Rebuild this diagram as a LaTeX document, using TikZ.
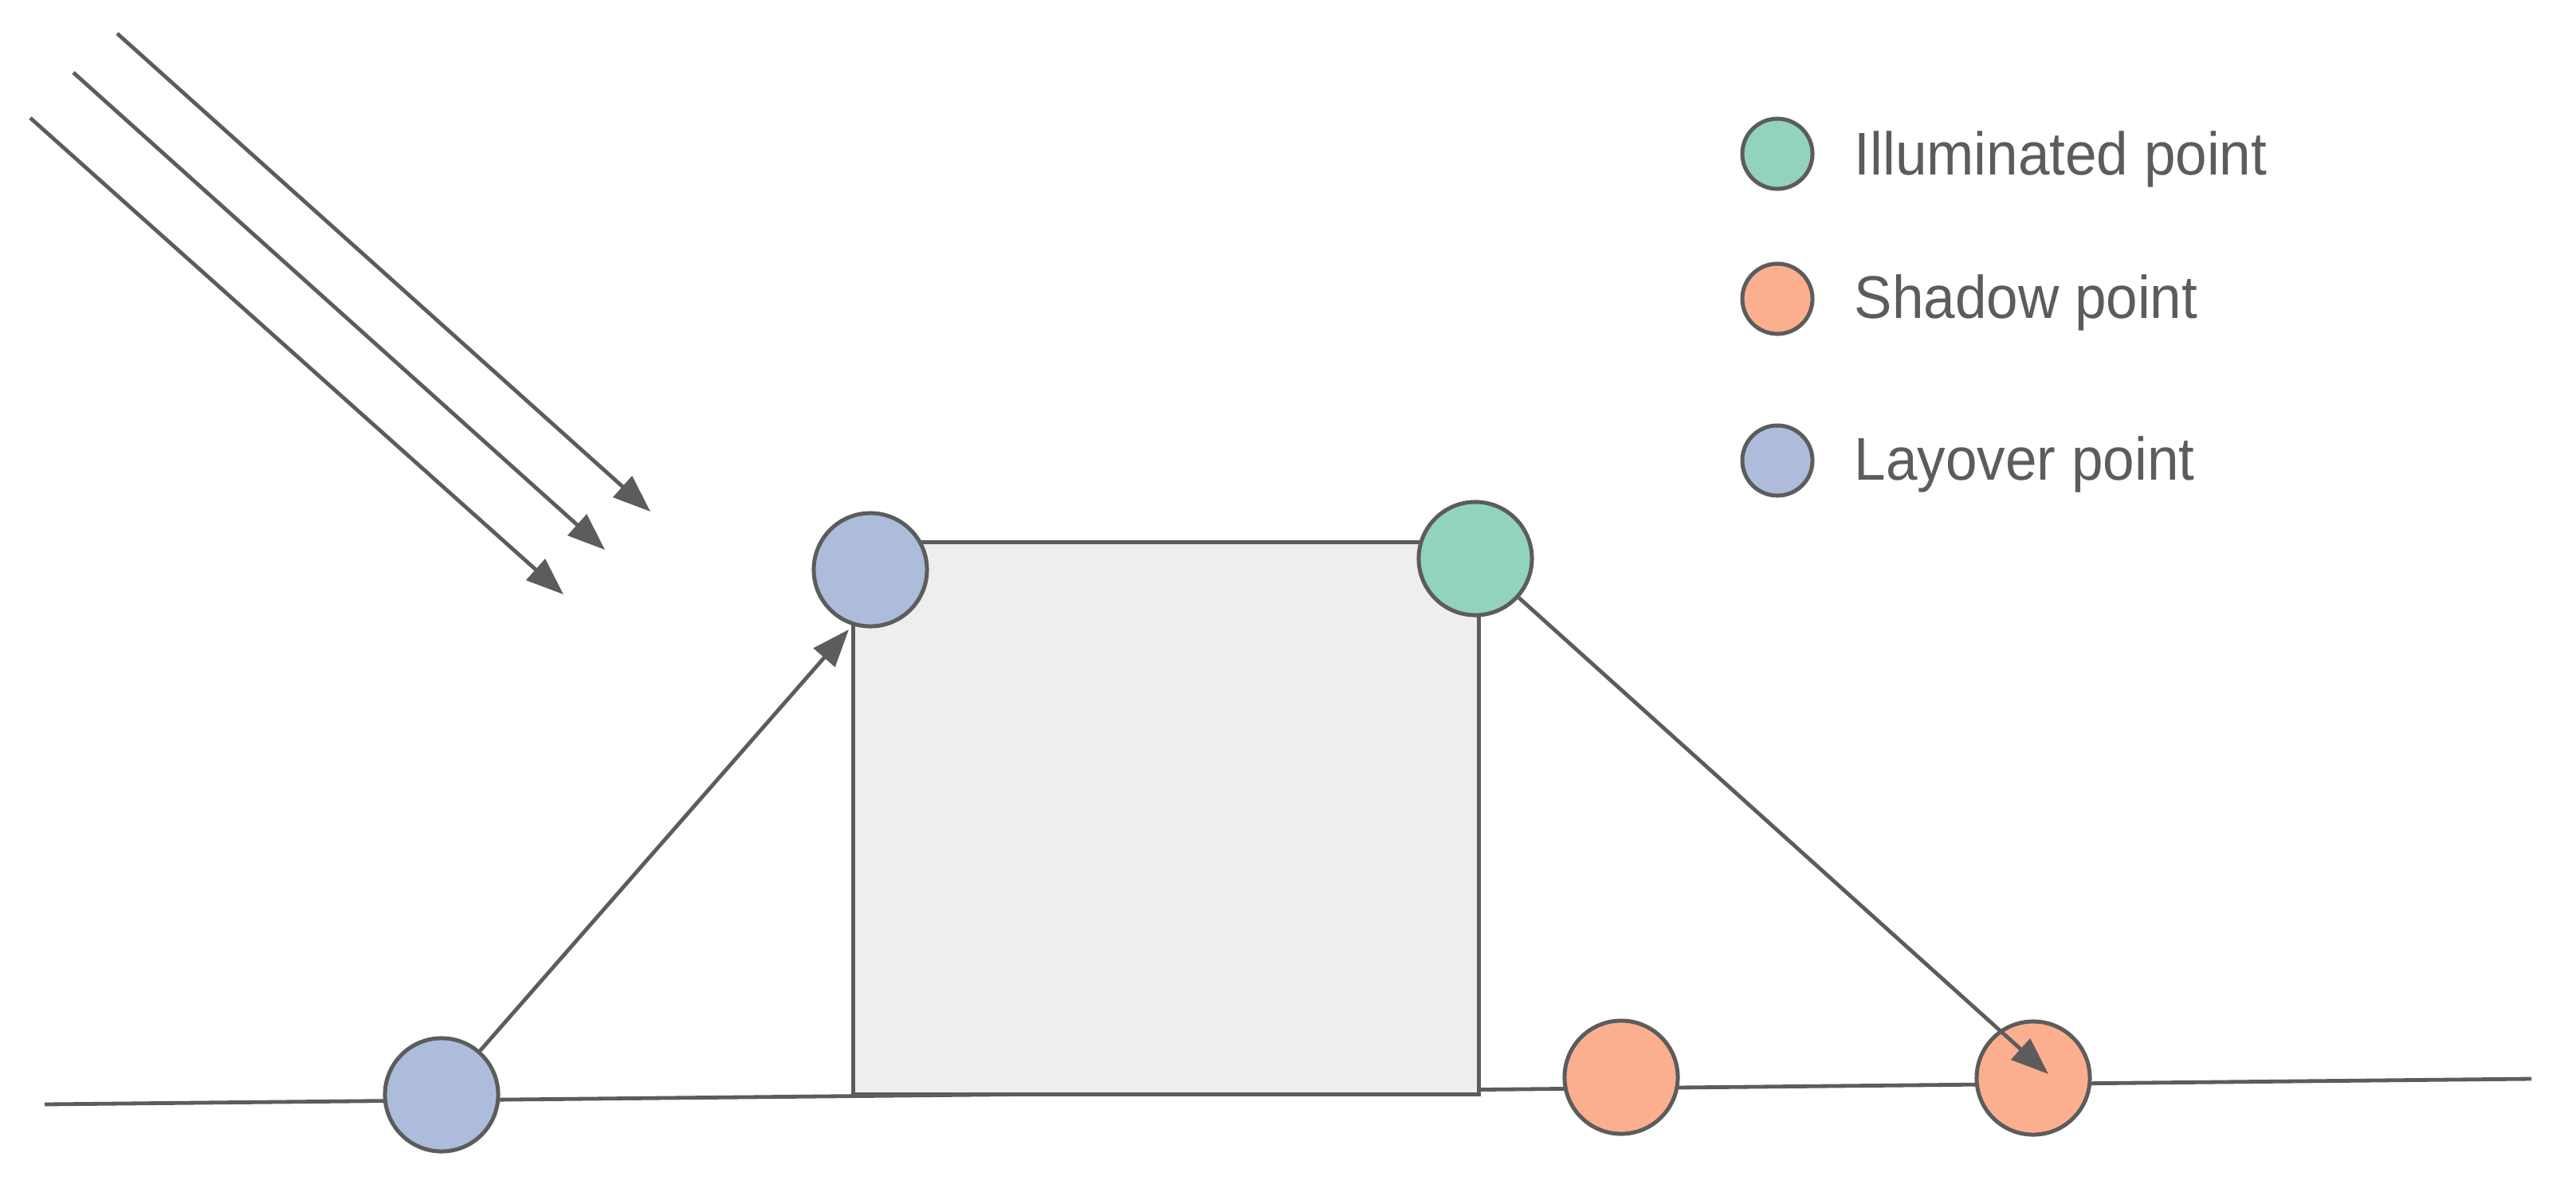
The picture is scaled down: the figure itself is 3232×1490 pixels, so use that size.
\documentclass[tikz,border=0pt]{standalone}
\usepackage{fontspec}
\setmainfont{Liberation Sans}
\usetikzlibrary{arrows.meta}
\definecolor{lc}{HTML}{5C5C5C}
\definecolor{txt}{HTML}{5C5C5C}
\definecolor{grn}{RGB}{145,211,189}
\definecolor{org}{RGB}{252,175,143}
\definecolor{blu}{RGB}{174,188,219}
\definecolor{bld}{HTML}{EEEEEE}
\newcommand{\lgtext}[1]{\scalebox{0.94}[1]{#1}}
\begin{document}
\begin{tikzpicture}[x=0.01cm,y=-0.01cm,
  ln/.style={draw=lc,line width=0.048cm},
  arr/.style={ln,-{Triangle[length=0.47cm,width=0.35cm]}},
  pt/.style={circle,draw=lc,line width=0.05cm,inner sep=0pt,minimum size=1.42cm},
  lg/.style={circle,draw=lc,line width=0.05cm,inner sep=0pt,minimum size=0.88cm},
  lbl/.style={anchor=base west,text=txt,font=\fontsize{21.5}{25}\selectfont,inner sep=0pt}]
\useasboundingbox[fill=white] (0,0) rectangle (3232,1490);
% incoming rays
\coordinate (r1s) at (147,42);  \coordinate (r1e) at (816,642);
\coordinate (r2s) at (92,91);   \coordinate (r2e) at (759,690);
\coordinate (r3s) at (38,148);  \coordinate (r3e) at (707,746);
\draw[arr] (r1s) -- (r1e);
\draw[arr] (r2s) -- (r2e);
\draw[arr] (r3s) -- (r3e);
% ground
\coordinate (g1) at (56,1386);
\coordinate (g2) at (3176,1354);
\draw[ln] (g1) -- (g2);
% building
\node[draw=lc,fill=bld,line width=0.048cm,inner sep=0pt,anchor=north west,
      minimum width=7.85cm,minimum height=6.93cm] (bldg) at (1068,678) {};
% points
\node[pt,fill=blu] (lb) at (554,1374) {};
\coordinate (t1) at (1065,790);
\draw[arr] (lb) -- (t1);
\node[pt,fill=blu] (lt) at (1092,715) {};
\node[pt,fill=grn] (il) at (1851,701) {};
\node[pt,fill=org] (s1) at (2034,1352) {};
\node[pt,fill=org] (s2) at (2551,1353) {};
\coordinate (t2) at (2570,1348);
\draw[arr] (il) -- (t2);
% legend
\node[lg,fill=grn] (lgI) at (2230,193) {};
\node[lg,fill=org] (lgS) at (2230,375) {};
\node[lg,fill=blu] (lgL) at (2230,578) {};
\node[lbl] (tI) at (2326,219) {\lgtext{Illuminated point}};
\node[lbl] (tS) at (2326,399) {\lgtext{Shadow point}};
\node[lbl] (tL) at (2326,602) {\lgtext{Layover point}};
\end{tikzpicture}
\end{document}
